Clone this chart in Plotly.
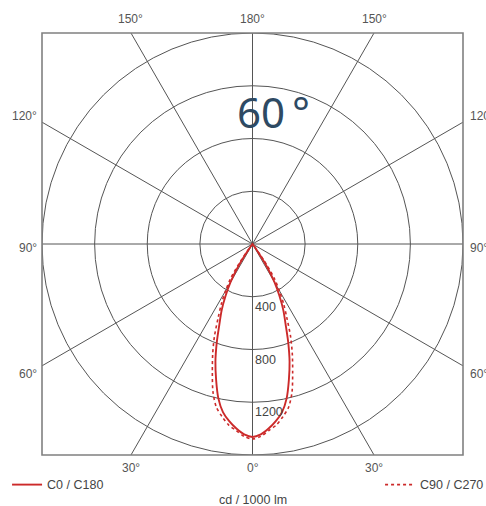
import numpy as np
import plotly.graph_objects as go

# ---- data ----
gamma_deg = [0, 2.5, 5, 7.5, 10, 12.5, 15, 17.5, 20, 22.5, 25, 27.5, 30, 32.5, 35, 37.5, 40, 50, 60, 70, 80, 90]
c0_c180 = [1463, 1445, 1405, 1355, 1294, 1199, 1068, 937, 794, 657, 555, 443, 334, 204, 60, 0, 0, 0, 0, 0, 0, 0]
c90_c270 = [1479, 1460, 1420, 1385, 1330, 1268, 1161, 1015, 884, 755, 618, 513, 407, 308, 150, 20, 0, 0, 0, 0, 0, 0]
ring_values = [400, 800, 1200, 1600]
ring_labels = ["400", "800", "1200"]
spoke_angles = [0, 30, 60, 90, 120, 150, 180]
angle_labels = ["0°", "30°", "60°", "90°", "120°", "150°", "180°"]
RMAX = 1600

def curve(vals):
    g = np.radians(gamma_deg)
    v = np.array(vals, dtype=float)
    xr = v * np.sin(g)
    yr = -v * np.cos(g)
    x = np.concatenate([-xr[::-1], xr[1:]])
    y = np.concatenate([yr[::-1], yr[1:]])
    return x, y

fig = go.Figure()
red = "#cc2a2a"
x0, y0 = curve(c0_c180)
x1, y1 = curve(c90_c270)
fig.add_trace(go.Scatter(x=x1, y=y1, mode="lines", name="C90 / C270",
                         line=dict(color=red, width=1.6, dash="dot", shape="spline", smoothing=0.8),
                         legend="legend2"))
fig.add_trace(go.Scatter(x=x0, y=y0, mode="lines", name="C0 / C180",
                         line=dict(color=red, width=1.9, shape="spline", smoothing=0.8),
                         legend="legend"))

grid = "#555555"
shapes = []
for r in ring_values:
    shapes.append(dict(type="circle", xref="x", yref="y", x0=-r, x1=r, y0=-r, y1=r,
                       line=dict(color=grid, width=1), layer="below"))
for a in spoke_angles:
    for s in ([1, -1] if a not in (0, 180) else [1]):
        ang = np.radians(a) * s
        dx, dy = np.sin(ang), -np.cos(ang)
        t = RMAX / max(abs(dx), abs(dy))
        shapes.append(dict(type="line", xref="x", yref="y", x0=0, y0=0, x1=dx * t, y1=dy * t,
                           line=dict(color=grid, width=1), layer="below"))
shapes.append(dict(type="rect", xref="paper", yref="paper", x0=0, x1=1, y0=0, y1=1,
                   line=dict(color="#808080", width=1.6)))

FAM = "Liberation Sans, Arial, sans-serif"
lab_font = dict(family=FAM, size=12, color="#555555")
ann = []
for a, lab in zip(spoke_angles, angle_labels):
    ang = np.radians(a)
    dx, dy = np.sin(ang), -np.cos(ang)
    for s in ([1, -1] if a not in (0, 180) else [1]):
        if abs(dy) >= abs(dx) - 1e-9 and a != 90:
            xv = s * dx * RMAX / abs(dy)
            if dy < 0:
                ann.append(dict(x=xv, y=0, xref="x", yref="paper", text=lab, showarrow=False,
                                yanchor="middle", yshift=-13, font=lab_font))
            else:
                ann.append(dict(x=xv, y=1, xref="x", yref="paper", text=lab, showarrow=False,
                                yanchor="middle", yshift=14, font=lab_font))
        else:
            yv = dy * RMAX / abs(dx)
            ysh = {60: -8, 90: -4, 120: 6}.get(a, 0)
            if s < 0:
                ann.append(dict(x=0, y=yv, xref="paper", yref="y", text=lab, showarrow=False,
                                xanchor="right", yanchor="middle", xshift=-3, yshift=ysh, font=lab_font))
            else:
                ann.append(dict(x=1, y=yv, xref="paper", yref="y", text=lab, showarrow=False,
                                xanchor="left", yanchor="middle", xshift=5, yshift=ysh, font=lab_font))

for r, lab in zip(ring_values, ring_labels):
    ann.append(dict(x=0, y=-r, xref="x", yref="y", text=lab, showarrow=False,
                    xanchor="left", yanchor="top", xshift=0, yshift=-1,
                    font=dict(family=FAM, size=12.5, color="#444444")))

ann.append(dict(x=0.5, y=0, xref="paper", yref="paper", text="cd / 1000 lm", showarrow=False,
                yanchor="middle", yshift=-45,
                font=dict(family=FAM, size=12.5, color="#444444")))
ann.append(dict(x=0, y=RMAX, xref="x", yref="y", text="60\u2009°", showarrow=False,
                xanchor="left", yanchor="top", xshift=-18, yshift=-48,
                font=dict(family="Noto Sans, Open Sans, sans-serif", size=42, color="#2e4a63")))

leg_font = dict(family=FAM, size=12.5, color="#444444")
fig.update_layout(
    width=486, height=506,
    margin=dict(l=42, r=23, t=33, b=51, autoexpand=False),
    paper_bgcolor="white", plot_bgcolor="white",
    xaxis=dict(range=[-RMAX, RMAX], visible=False, showgrid=False, zeroline=False, fixedrange=True),
    yaxis=dict(range=[-RMAX, RMAX], visible=False, showgrid=False, zeroline=False, fixedrange=True),
    shapes=shapes, annotations=ann,
    showlegend=True,
    legend=dict(x=-0.083, y=-0.0355, xanchor="left", yanchor="top", bgcolor="rgba(0,0,0,0)",
                font=leg_font, itemwidth=30),
    legend2=dict(x=0.803, y=-0.0355, xanchor="left", yanchor="top", bgcolor="rgba(0,0,0,0)",
                 font=leg_font, itemwidth=30),
)
fig.write_html("out.html", config={"displayModeBar": False},
               post_script="document.body.style.margin='0';document.body.style.overflow='hidden';")
